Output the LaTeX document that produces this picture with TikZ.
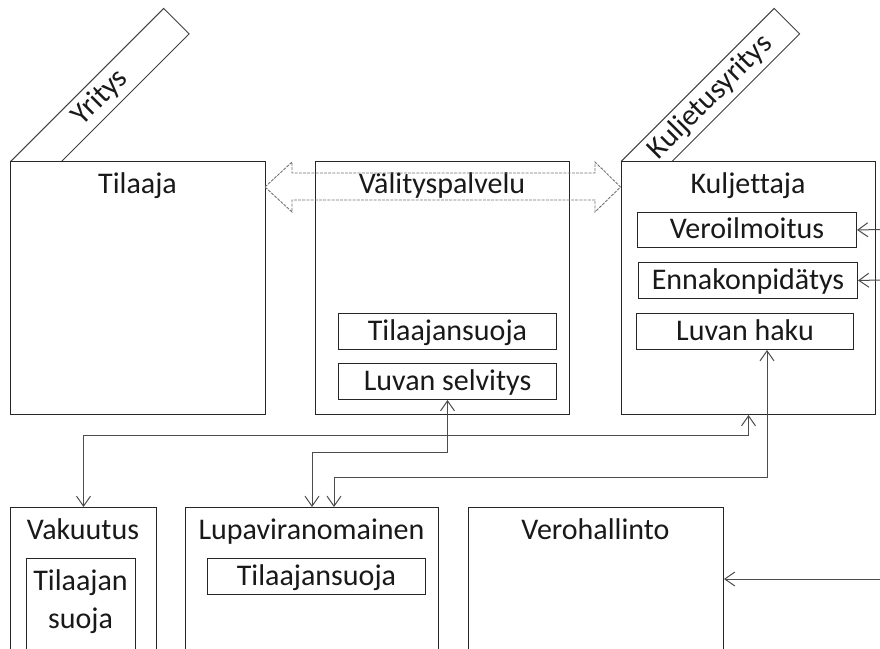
\documentclass[tikz,border=0pt]{standalone}
\usepackage{fontspec}
\setmainfont{Carlito}[Ligatures={NoCommon}]
\usetikzlibrary{arrows.meta}
\begin{document}
\begin{tikzpicture}[x=1pt,y=-1pt,
  every node/.style={font=\fontsize{30}{38}\selectfont, inner sep=0pt, text=black!90},
  box/.style={draw=black!85, line width=1pt, fill=white, anchor=north west},
  inbox/.style={box, text height=20pt, text depth=3pt},
  title/.style={anchor=base},
  tag/.style={draw=black!75, line width=1pt, rotate=45, minimum width=216pt, minimum height=36pt},
  conn/.style={draw=black!70, line width=1pt, {Straight Barb[length=10pt,width=14pt]}-{Straight Barb[length=10pt,width=14pt]}},
  feed/.style={draw=black!70, line width=1pt, -{Straight Barb[length=10pt,width=14pt]}},
  bigarrow/.style={draw=black!55, line width=0.9pt, dash pattern=on 3pt off 1.2pt},
]
\useasboundingbox (0,0) rectangle (880,648);
\clip (0,0) rectangle (880,648);

% tilted company tags (partly covered by the boxes below them)
\node[tag] (yritys) at (100,97.5) {Yritys};
\node[tag] (kyritys) at (710.5,97.5) {Kuljetusyritys};

% top row
\node[box, minimum width=255pt, minimum height=253pt] (tilaaja) at (10,161) {};
\node[box, fill=none, minimum width=254pt, minimum height=253pt] (valitys) at (315,161) {};
\node[box, minimum width=254pt, minimum height=253pt] (kuljettaja) at (621,161) {};

\node[title] (tTilaaja) at (137.5,193) {Tilaaja};
\node[title] (tValitys) at (442,193) {Välityspalvelu};
\node[title] (tKuljettaja) at (748,193) {Kuljettaja};

% two-way block arrow between customer and driver
\draw[bigarrow] (265,187) -- (292,162) -- (292,173) -- (595,173) -- (595,162)
  -- (620.5,187) -- (595,212) -- (595,200) -- (292,200) -- (292,212) -- cycle;

% inner boxes
\node[inbox, minimum width=218pt, minimum height=36pt] (tsuoja1) at (338,313) {Tilaajansuoja};
\node[inbox, minimum width=218pt, minimum height=36pt] (selvitys) at (338,363) {Luvan selvitys};
\node[inbox, minimum width=219pt, minimum height=35pt] (veroil) at (637,212) {Veroilmoitus};
\node[inbox, minimum width=219pt, minimum height=36pt] (ennakko) at (638,262) {Ennakonpidätys};
\node[inbox, minimum width=217pt, minimum height=36pt] (haku) at (636,313) {Luvan haku};

% bottom row
\node[box, minimum width=146pt, minimum height=170pt] (vakuutus) at (10,507) {};
\node[box, minimum width=253pt, minimum height=170pt] (lupa) at (185,507) {};
\node[box, minimum width=255pt, minimum height=170pt] (vh) at (468,507) {};

\node[title] (tVakuutus) at (83,539) {Vakuutus};
\node[title] (tLupa) at (311.5,539) {Lupaviranomainen};
\node[title] (tVh) at (595.5,539) {Verohallinto};

\node[box, minimum width=109pt, minimum height=120pt] (vsuoja) at (26,558) {};
\node[anchor=base, align=center] (tVsuoja) at (80.5,628) {Tilaajan\\suoja};
\node[inbox, minimum width=218pt, minimum height=36pt] (tsuoja2) at (207,558) {Tilaajansuoja};

% connectors
\draw[conn] (vakuutus.north) -- ++(0,-72) -| (kuljettaja.south);
\draw[conn] (lupa.north) -- ++(0,-55) -| (selvitys.south);
\draw[conn] ([xshift=22pt]lupa.north) -- ++(0,-30) -| ([xshift=22pt]haku.south);

% incoming feeds from the right edge
\coordinate (feedA) at (880,229.5);
\coordinate (feedB) at (880,280);
\coordinate (feedC) at (880,579);
\draw[feed] (feedA) -- (veroil.east);
\draw[feed] (feedB) -- (ennakko.east);
\draw[feed] (feedC) -- (vh.east |- feedC);
\end{tikzpicture}
\end{document}
